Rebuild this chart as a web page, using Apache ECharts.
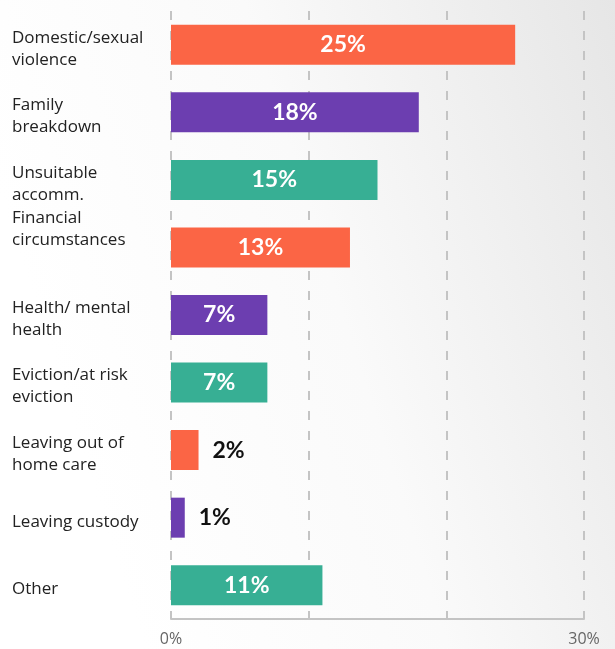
<!DOCTYPE html>
<html><head><meta charset="utf-8">
<script src="https://cdn.jsdelivr.net/npm/echarts@6/dist/echarts.min.js"></script>
<style>html,body{margin:0;padding:0;}#c{width:615px;height:649px;}</style>
</head><body><div id="c"></div>
<script>
const categories = ["Domestic/sexual\nviolence","Family\nbreakdown","Unsuitable\naccomm.","Financial\ncircumstances","Health/ mental\nhealth","Eviction/at risk\neviction","Leaving out of\nhome care","Leaving custody","Other"];
const values = [25, 18, 15, 13, 7, 7, 2, 1, 11];
const barColors = ["#FB6545","#6C3EB0","#37AF94","#FB6545","#6C3EB0","#37AF94","#FB6545","#6C3EB0","#37AF94"];
const tickLabels = {0:"0%", 30:"30%"};

const chart = echarts.init(document.getElementById('c'));
const font = "'Open Sans', 'Noto Sans', sans-serif";
const bfont = "Lato, 'Noto Sans', sans-serif";
chart.setOption({
  backgroundColor: {type:'linear', x:0, y:0.3, x2:1, y2:0, colorStops:[{offset:0,color:'#ffffff'},{offset:0.45,color:'#fafafa'},{offset:1,color:'#e6e6e6'}]},
  grid: {left:171, right:31, top:11, bottom:30, containLabel:false},
  xAxis: {type:'value', min:0, max:30, interval:10,
    axisLine:{show:true, lineStyle:{color:'#c4c4c4', width:2}},
    axisTick:{show:true, inside:true, length:7, lineStyle:{color:'#c4c4c4', width:2}},
    splitLine:{show:true, lineStyle:{color:'#c4c4c4', width:2, type:[9,11]}},
    axisLabel:{formatter:v=>tickLabels[v]||'', color:'#666', fontSize:16, fontFamily:font, margin:12}
  },
  yAxis: {type:'category', data:categories, inverse:true,
    axisLine:{show:false}, axisTick:{show:false},
    axisLabel:{align:'left', margin:159, color:'#222', fontSize:17, lineHeight:22, fontFamily:font,
      formatter:(v)=> v.indexOf('Financial')===0 ? '{up|'+v+'}' : '{n|'+v+'}',
      rich:{
        up:{fontSize:17, lineHeight:22, color:'#222', fontFamily:font, padding:[0,0,36,0]},
        n:{fontSize:17, lineHeight:22, color:'#222', fontFamily:font, padding:[8,0,0,0]}
      }}
  },
  series:[{type:'bar', barWidth:40,
    data: values.map((v,i)=>({value:v, itemStyle:{color:barColors[i]},
      label: v<5 ? {position:'right', color:'#111', distance:14} : {position:'inside', color:'#fff'}})),
    label:{show:true, formatter:'{c}%', fontSize:23, fontWeight:'bold', fontFamily:bfont}
  }]
});
</script></body></html>
